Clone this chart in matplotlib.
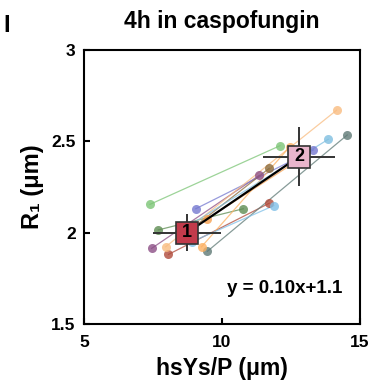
import matplotlib
matplotlib.use("Agg")
import matplotlib.pyplot as plt

# --- data ---
x_start = [7.39, 7.69, 8.06, 7.45, 9.05, 8.55, 9.47, 7.96, 9.26, 9.44, 8.60, 8.90]
y_start = [2.155, 2.015, 1.881, 1.914, 2.131, 1.980, 1.898, 1.923, 1.923, 2.073, 2.020, 1.950]
x_end = [12.10, 10.77, 11.71, 11.35, 13.31, 11.71, 14.54, 14.15, 12.46, 13.00, 13.85, 11.88]
y_end = [2.476, 2.131, 2.161, 2.314, 2.453, 2.352, 2.535, 2.670, 2.471, 2.420, 2.511, 2.148]
colors = ["#7cc576", "#5e8c52", "#b04a3a", "#8c4f86", "#7478d0", "#8a6a3a",
          "#5f7a76", "#f9bc80", "#fdb060", "#f5a050", "#7fbfe0", "#80c0e8"]

mean_x = [8.74, 12.79]
mean_y = [2.00, 2.416]
sem_x = [1.23, 1.29]
sem_y = [0.10, 0.16]
mean_labels = ["1", "2"]
mean_colors = ["#c23b4b", "#e9b5cc"]

x_ticks = [5, 10, 15]
y_ticks = [1.5, 2, 2.5, 3]
y_ticklabels = ["1.5", "2", "2.5", "3"]

title = "4h in caspofungin"
xlabel = "hsYs/P (μm)"
ylabel = "R₁ (μm)"
fit_text = "y = 0.10x+1.1"
panel = "I"

plt.rcParams['font.family'] = ['Liberation Sans', 'DejaVu Sans']
plt.rcParams['font.weight'] = 'bold'

fig = plt.figure(figsize=(3.83, 3.85), dpi=100)
ax = fig.add_axes([0.2193, 0.1584, 0.7206, 0.7117])

for xs, ys, xe, ye, c in zip(x_start, y_start, x_end, y_end, colors):
    ax.plot([xs, xe], [ys, ye], color=c, lw=0.9, alpha=0.75, zorder=2)
    ax.plot([xs, xe], [ys, ye], 'o', color=c, ms=6.5, alpha=0.8, mec='none', zorder=3)

ax.plot(mean_x, mean_y, color='black', lw=1.6, zorder=4)
for mx, my, sx, sy, lab, mc in zip(mean_x, mean_y, sem_x, sem_y, mean_labels, mean_colors):
    ax.errorbar(mx, my, xerr=sx, yerr=sy, fmt='none', ecolor='#333333', elinewidth=1.4, capsize=0, zorder=5)
    ax.plot(mx, my, 's', ms=15.5, color=mc, mec='#333333', mew=1.2, zorder=6)
    ax.text(mx, my, lab, ha='center', va='center', fontsize=13, fontweight='bold', zorder=7)

ax.text(12.28, 1.697, fit_text, ha='center', va='center', fontsize=13.5, fontweight='bold')

ax.set_xlim(5, 15)
ax.set_ylim(1.5, 3)
ax.set_xticks(x_ticks)
ax.set_xticklabels([str(t) for t in x_ticks])
ax.set_yticks(y_ticks)
ax.set_yticklabels(y_ticklabels)
ax.tick_params(direction='in', length=4, width=1.5, labelsize=12.5, pad=6)
ax.tick_params(axis='x', pad=8)
for lab in ax.get_xticklabels() + ax.get_yticklabels():
    lab.set_fontweight('bold')
for s in ax.spines.values():
    s.set_linewidth(1.5)

ax.set_xlabel(xlabel, fontsize=16.5, fontweight='bold', labelpad=5)
ax.set_ylabel(ylabel, fontsize=17, fontweight='bold', labelpad=5)
ax.set_title(title, fontsize=16.5, fontweight='bold', pad=16)
fig.text(0.008, 0.935, panel, fontsize=17, fontweight='bold', ha='left', va='center')

fig.savefig("out.png", dpi=100)
